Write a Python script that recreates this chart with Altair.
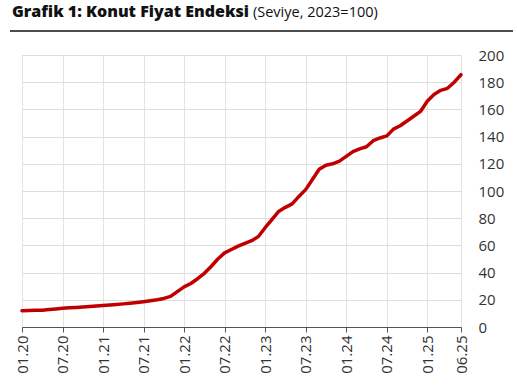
import altair as alt
import pandas as pd

# Monthly index (0 = 01.2020 ... 65 = 06.2025)
months = list(range(66))
values = [
    12.0, 12.2, 12.3, 12.4, 12.8, 13.3, 13.8, 14.1, 14.4, 14.7, 15.0, 15.4,
    15.8, 16.2, 16.6, 17.0, 17.5, 18.0, 18.6, 19.3, 20.0, 21.0, 22.5, 26.0,
    29.5, 32.0, 35.5, 39.5, 44.5, 50.0, 54.5, 57.0, 59.5, 61.5, 63.5, 66.5,
    73.0, 79.0, 85.0, 88.0, 90.5, 96.0, 101.0, 108.5, 116.0, 119.0, 120.0, 122.0,
    125.5, 129.0, 131.0, 132.5, 137.0, 139.0, 140.5, 145.5, 148.0, 151.5, 155.0, 158.5,
    166.0, 171.0, 174.0, 175.5, 180.0, 185.5,
]
tick_positions = [0, 6, 12, 18, 24, 30, 36, 42, 48, 54, 60, 65]
tick_labels = ["01.20", "07.20", "01.21", "07.21", "01.22", "07.22",
               "01.23", "07.23", "01.24", "07.24", "01.25", "06.25"]
title_bold = "Grafik 1: Konut Fiyat Endeksi"
title_normal = "(Seviye, 2023=100)"

df = pd.DataFrame({"m": months, "v": values})

label_expr = "[" + ",".join(f"'{t}'" for t in tick_labels) + "][indexof([" + \
    ",".join(str(p) for p in tick_positions) + "], datum.value)]"

FONT = "Open Sans"

line = alt.Chart(df).mark_line(color="#c00000", strokeWidth=3.5, strokeCap="round", strokeJoin="round").encode(
    x=alt.X("m:Q", scale=alt.Scale(domain=[0, 65], nice=False, zero=False),
            axis=alt.Axis(values=tick_positions, labelExpr=label_expr, labelAngle=-90,
                          title=None, grid=True, gridColor="#e3e3e3", domainColor="#555555",
                          tickColor="#555555", tickSize=5, labelPadding=3,
                          labelFontSize=15, labelColor="#333333", labelFont=FONT)),
    y=alt.Y("v:Q", scale=alt.Scale(domain=[0, 200], nice=False),
            axis=alt.Axis(orient="right", values=list(range(0, 201, 20)), title=None,
                          domain=False, ticks=False, labelPadding=17, labelAlign="left",
                          gridColor="#dddddd", labelFontSize=15, labelColor="#333333",
                          labelFont=FONT)),
)

t1 = alt.Chart(pd.DataFrame({"t": [title_bold]})).mark_text(
    align="left", baseline="alphabetic", fontSize=16, fontWeight=800, font=FONT, color="#111111"
).encode(text="t:N", x=alt.value(-10), y=alt.value(-37.8))

t2 = alt.Chart(pd.DataFrame({"t": [title_normal]})).mark_text(
    align="left", baseline="alphabetic", fontSize=14.5, font=FONT, color="#111111"
).encode(text="t:N", x=alt.value(231), y=alt.value(-37.8))

rule = alt.Chart(pd.DataFrame({"a": [0]})).mark_rule(color="#111111", strokeWidth=1.5).encode(
    x=alt.value(-12), x2=alt.value(491), y=alt.value(-24)
)

chart = alt.layer(line, t1, t2, rule).properties(
    width=439, height=272,
    autosize=alt.AutoSizeParams(type="none"),
    padding={"left": 22, "top": 55, "right": 56, "bottom": 58},
).configure_view(stroke=None).configure(background="white")

chart.save("out.html", embed_options={"renderer": "svg", "actions": False})
